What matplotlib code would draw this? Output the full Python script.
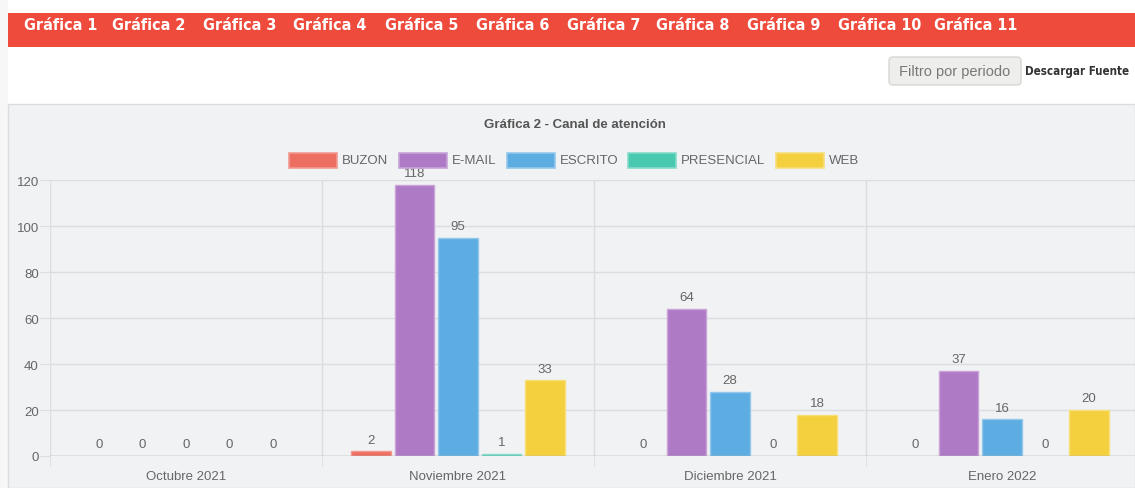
import matplotlib
matplotlib.use("Agg")
import matplotlib.pyplot as plt
import numpy as np
from matplotlib.patches import Rectangle, FancyBboxPatch
from matplotlib.transforms import Affine2D

# data
months = ["Octubre 2021", "Noviembre 2021", "Diciembre 2021", "Enero 2022"]
series_names = ["BUZON", "E-MAIL", "ESCRITO", "PRESENCIAL", "WEB"]
buzon = [0, 2, 0, 0]
email = [0, 118, 64, 37]
escrito = [0, 95, 28, 16]
presencial = [0, 1, 0, 0]
web = [0, 33, 18, 20]
nav_labels = [f"Gráfica {i}" for i in range(1, 12)]
y_ticks = [0, 20, 40, 60, 80, 100, 120]

fills = ["#ec6f61", "#af7ac5", "#5dade2", "#48c9b0", "#f4d03f"]
edges = ["#f19a90", "#c9a3d8", "#92c8ec", "#86dccb", "#f7df7a"]

W, H = 1135, 489
plt.rcParams["font.family"] = ["Liberation Sans", "DejaVu Sans"]
fig = plt.figure(figsize=(W / 100, H / 100), dpi=100)
fig.patch.set_facecolor("white")
# pixel coords, origin top-left
px = Affine2D().scale(1 / W, -1 / H).translate(0, 1) + fig.transFigure


def bg_rect(x, y, w, h, **kw):
    fig.patches.append(Rectangle((x, y), w, h, transform=px, zorder=-5, **kw))


# page background pieces
bg_rect(0, 0, 8, H, facecolor="#f7f7f7", edgecolor="none")
bg_rect(8, 14, W - 8, 34, facecolor="#ef4b3d", edgecolor="none")
bg_rect(8, 105, W - 8, H - 105, facecolor="#f1f2f4", edgecolor="#dcdcdc", linewidth=1)

nav_x = [24, 112, 203, 293, 385, 476, 567, 656, 747, 838, 934]
for x, lab in zip(nav_x, nav_labels):
    fig.text(x, 26, lab, transform=px, color="white", fontsize=11.5, fontweight="bold",
             family="DejaVu Sans", fontstretch="condensed", ha="left", va="center")

# filter button + download link
fig.patches.append(FancyBboxPatch((889, 58), 132, 28, transform=px,
                                  boxstyle="round,pad=0,rounding_size=4",
                                  facecolor="#eeeeec", edgecolor="#d6d6d2", linewidth=1))
fig.text(955, 72, "Filtro por periodo", transform=px, color="#777777", fontsize=10.5,
         ha="center", va="center")
fig.text(1025, 71, "Descargar Fuente", transform=px, color="#333333", fontsize=8.3,
         fontweight="bold", family="DejaVu Sans", fontstretch="condensed",
         ha="left", va="center")

# title + legend
fig.text(575, 125, "Gráfica 2 - Canal de atención", transform=px, color="#555555",
         fontsize=9.5, fontweight="bold", ha="center", va="center")
leg_x = [289, 399, 507, 628, 776]
for x, name, fc, ec in zip(leg_x, series_names, fills, edges):
    fig.patches.append(Rectangle((x, 154), 48, 15, transform=px, facecolor=fc,
                                 edgecolor=ec, linewidth=1.2))
    fig.text(x + 53, 161.5, name, transform=px, color="#666666", fontsize=9.5,
             ha="left", va="center")

# chart axes: plot area 50..1138 px wide, 181..457 px tall
left, right, top, bottom = 50, 1138, 181, 457
ax = fig.add_axes([left / W, 1 - bottom / H, (right - left) / W, (bottom - top) / H])
ax.set_facecolor("none")
ax.set_xlim(-0.5, len(months) - 0.5)
ax.set_ylim(0, 120)

grid_c = "#dcdde0"
for s in ax.spines.values():
    s.set_visible(False)
ax.axhline(0, color="#a8a8a8", linewidth=1, zorder=3)
ax.set_yticks(y_ticks)
ax.yaxis.grid(True, color=grid_c, linewidth=1)
ax.set_axisbelow(True)
ax.tick_params(axis="y", length=7, color=grid_c, labelcolor="#666666", labelsize=9.5, pad=1)

# category boundaries as vertical grid lines with ticks below the axis
bounds = np.arange(len(months) + 1) - 0.5
ax.set_xticks(bounds, minor=True)
ax.xaxis.grid(True, which="minor", color=grid_c, linewidth=1)
ax.tick_params(axis="x", which="minor", length=7, color=grid_c)
ax.set_xticks(np.arange(len(months)))
ax.set_xticklabels(months)
ax.tick_params(axis="x", which="major", length=0, labelcolor="#666666", labelsize=9.5, pad=10)

values = [buzon, email, escrito, presencial, web]
step = 0.8 / len(values)
width = step * 0.9
x = np.arange(len(months))
for i, (vals, fc, ec) in enumerate(zip(values, fills, edges)):
    pos = x - 0.4 + step * (i + 0.5)
    lw = [1 if v else 0 for v in vals]
    bars = ax.bar(pos, vals, width, color=fc, edgecolor=ec, linewidth=lw, zorder=2)
    ax.bar_label(bars, labels=[str(v) for v in vals], padding=4, color="#666666", fontsize=9.5)

fig.savefig("out.png", dpi=100)
